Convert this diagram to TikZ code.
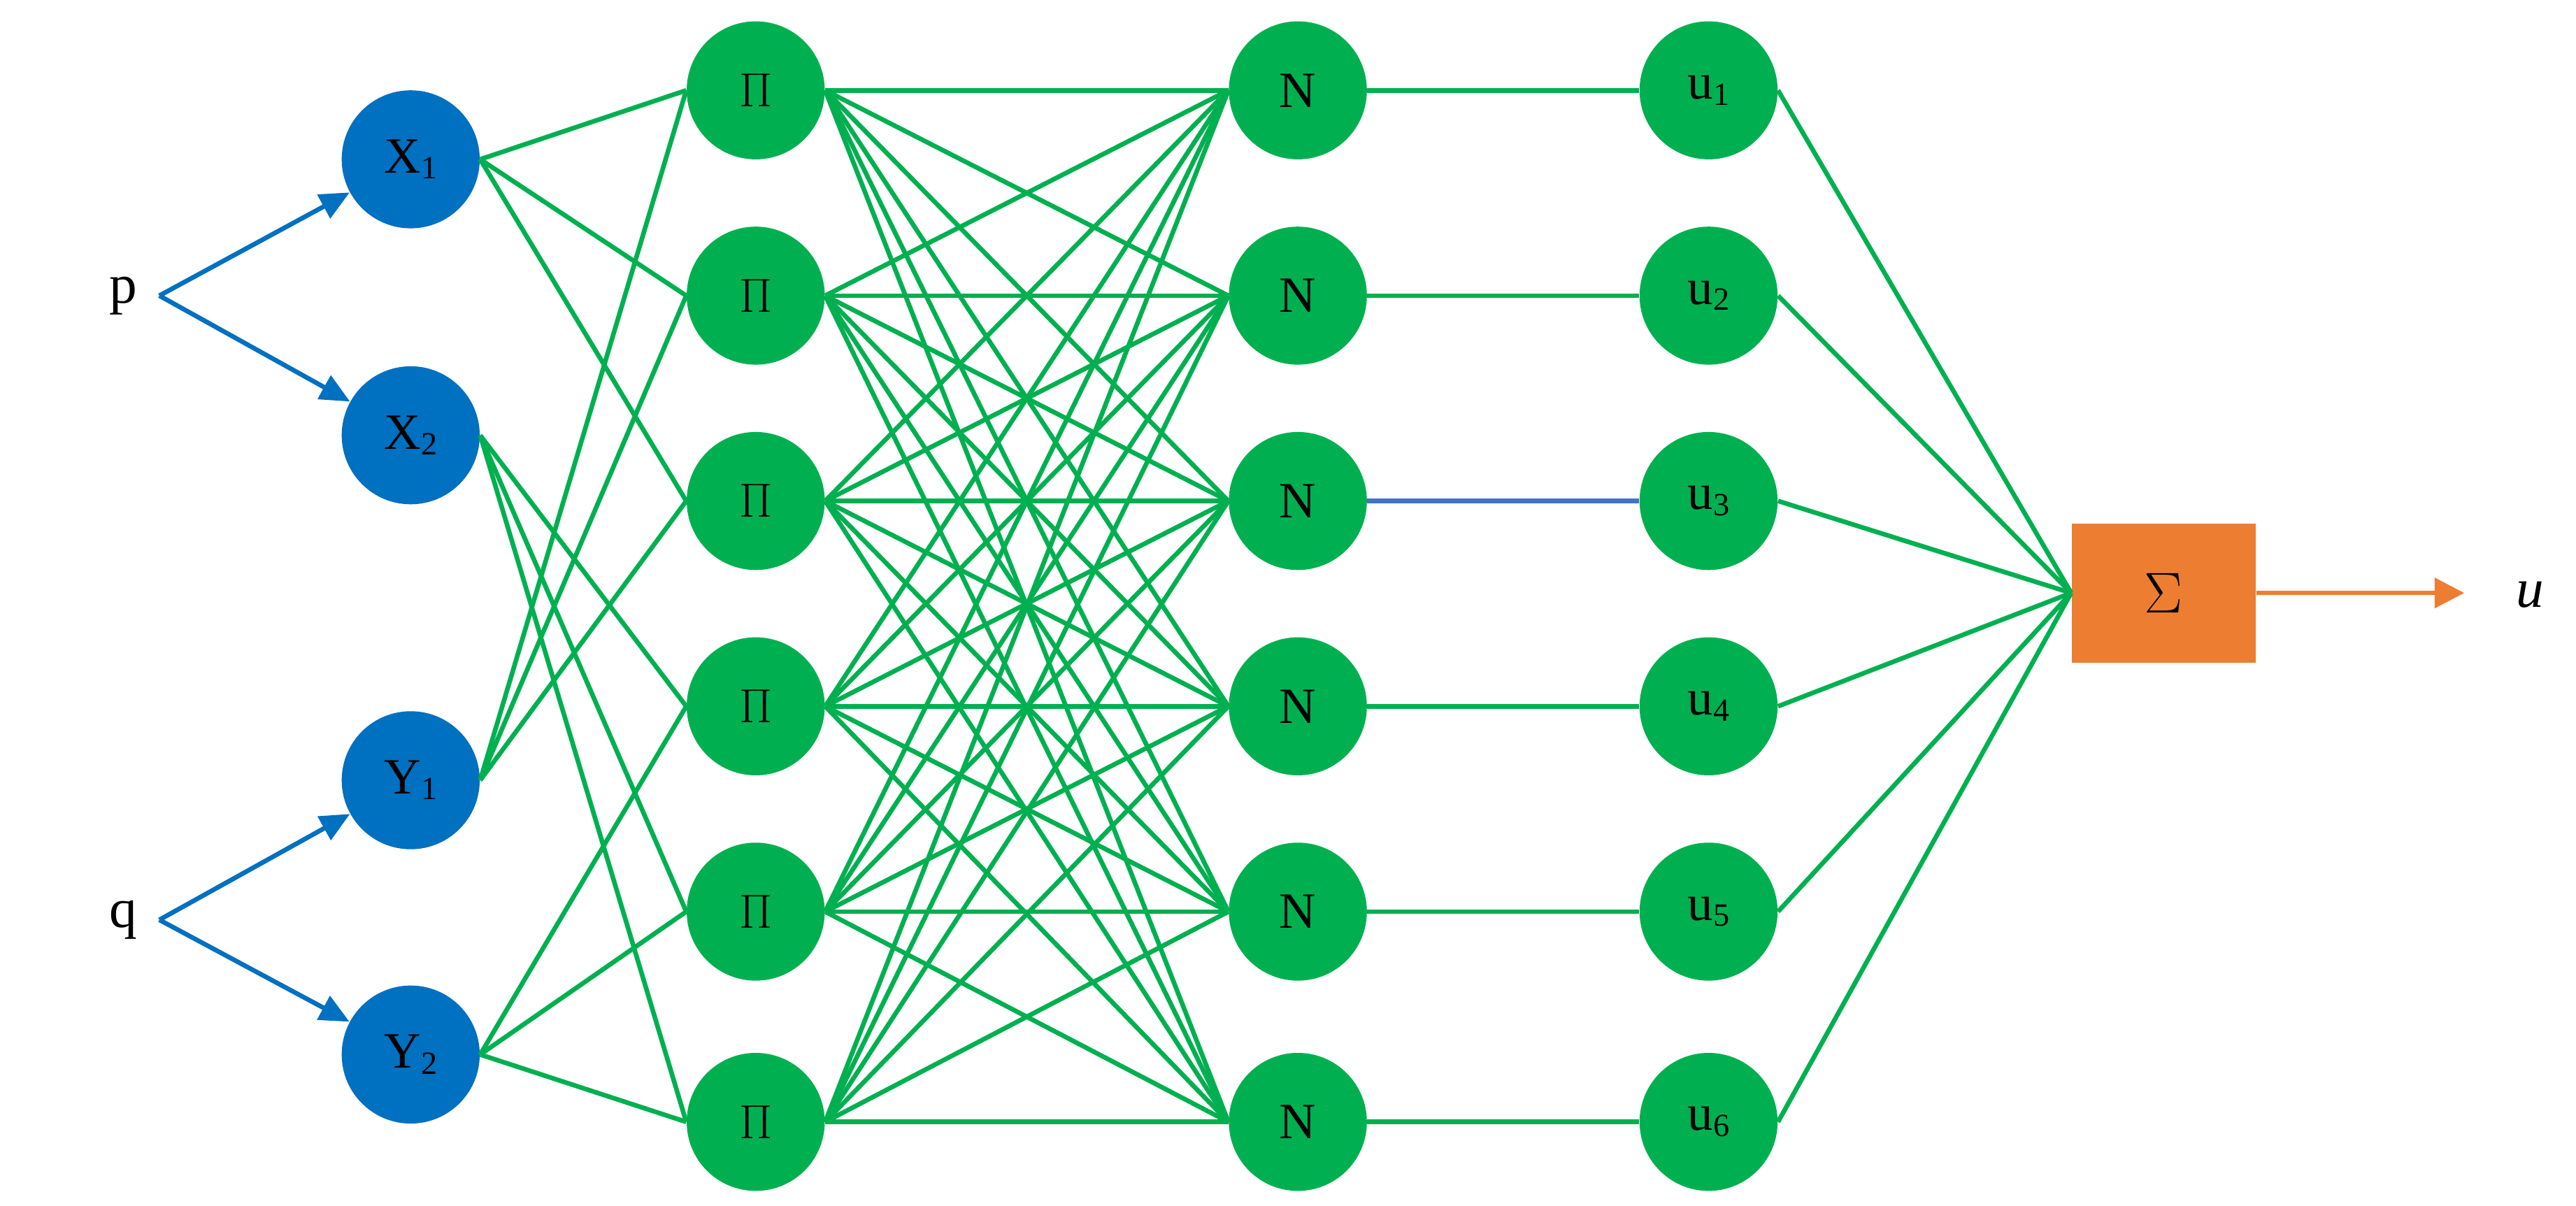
\documentclass[tikz,border=0pt]{standalone}
\usepackage{fontspec}
\setmainfont{Liberation Serif}
\usetikzlibrary{arrows.meta, positioning, calc}
\definecolor{inblue}{RGB}{0,112,192}
\definecolor{netgreen}{RGB}{0,176,80}
\definecolor{linkblue}{RGB}{68,114,196}
\definecolor{sumorange}{RGB}{237,125,49}
\newcommand{\sub}[1]{\raisebox{-0.25ex}{\fontsize{14}{16}\selectfont #1}}
\tikzset{
    mf/.style={circle, minimum size=2.1cm, inner sep=0pt, fill=inblue, text=black, font=\fontsize{22}{26}\selectfont},
    rule/.style={circle, minimum size=2.1cm, inner sep=0pt, fill=netgreen, text=black, font=\fontsize{22}{26}\selectfont},
    sumbox/.style={rectangle, minimum width=2.8cm, minimum height=2.12cm, fill=sumorange, font=\fontsize{26}{30}\selectfont},
    label/.style={font=\fontsize{24}{28}\selectfont},
    inarrow/.style={line width=2pt, draw=inblue, -{Triangle[length=0.45cm, width=0.4cm]}},
    link/.style={line width=2pt, draw=netgreen},
    outarrow/.style={line width=2pt, draw=sumorange, -{Triangle[length=0.45cm, width=0.45cm]}}
}
\begin{document}
\begin{tikzpicture}[x=0.025cm, y=-0.025cm]
    \useasboundingbox (0,0) rectangle (1568,734);
    % Inputs
    \node (p) [label] at (75,180) {p};
    \node (q) [label] at (75,560) {q};
    \coordinate (pb) at (97,180);
    \coordinate (qb) at (97,560);

    % Membership layer
    \node (x1) [mf] at (250,97) {X\sub{1}};
    \node (x2) [mf] at (250,265) {X\sub{2}};
    \node (y1) [mf] at (250,475) {Y\sub{1}};
    \node (y2) [mf] at (250,642) {Y\sub{2}};

    % Rule, norm and output layers
    \foreach \i/\y in {1/55,2/180,3/305,4/430,5/555,6/683} {
        \node (pi\i) [rule] at (460,\y) {$\Pi$};
        \node (n\i) [rule] at (790,\y) {N};
        \node (u\i) [rule] at (1040,\y) {u\sub{\i}};
    }
    \node (sum) [sumbox] at (1317,361) {$\Sigma$};
    \node (out) [label, font=\fontsize{24}{28}\selectfont\itshape] at (1540,362) {u};
    \coordinate (outend) at (1500,361);

    % Arrows
    \draw [inarrow] (pb) -- (x1);
    \draw [inarrow] (pb) -- (x2);
    \draw [inarrow] (qb) -- (y1);
    \draw [inarrow] (qb) -- (y2);

    % Links
    \foreach \j in {1,2,3} {
        \draw [link] (x1.east) -- (pi\j.west);
        \draw [link] (y1.east) -- (pi\j.west);
    }
    \foreach \j in {4,5,6} {
        \draw [link] (x2.east) -- (pi\j.west);
        \draw [link] (y2.east) -- (pi\j.west);
    }
    \foreach \i in {1,...,6} {
        \foreach \j in {1,...,6}
            \draw [link] (pi\i.east) -- (n\j.west);
        \draw [link] (u\i.east) -- (sum.west);
    }
    \foreach \i in {1,2,4,5,6}
        \draw [link] (n\i) -- (u\i);
    \draw [line width=2pt, draw=linkblue] (n3) -- (u3);
    \draw [outarrow] (sum) -- (outend);
\end{tikzpicture}
\end{document}
